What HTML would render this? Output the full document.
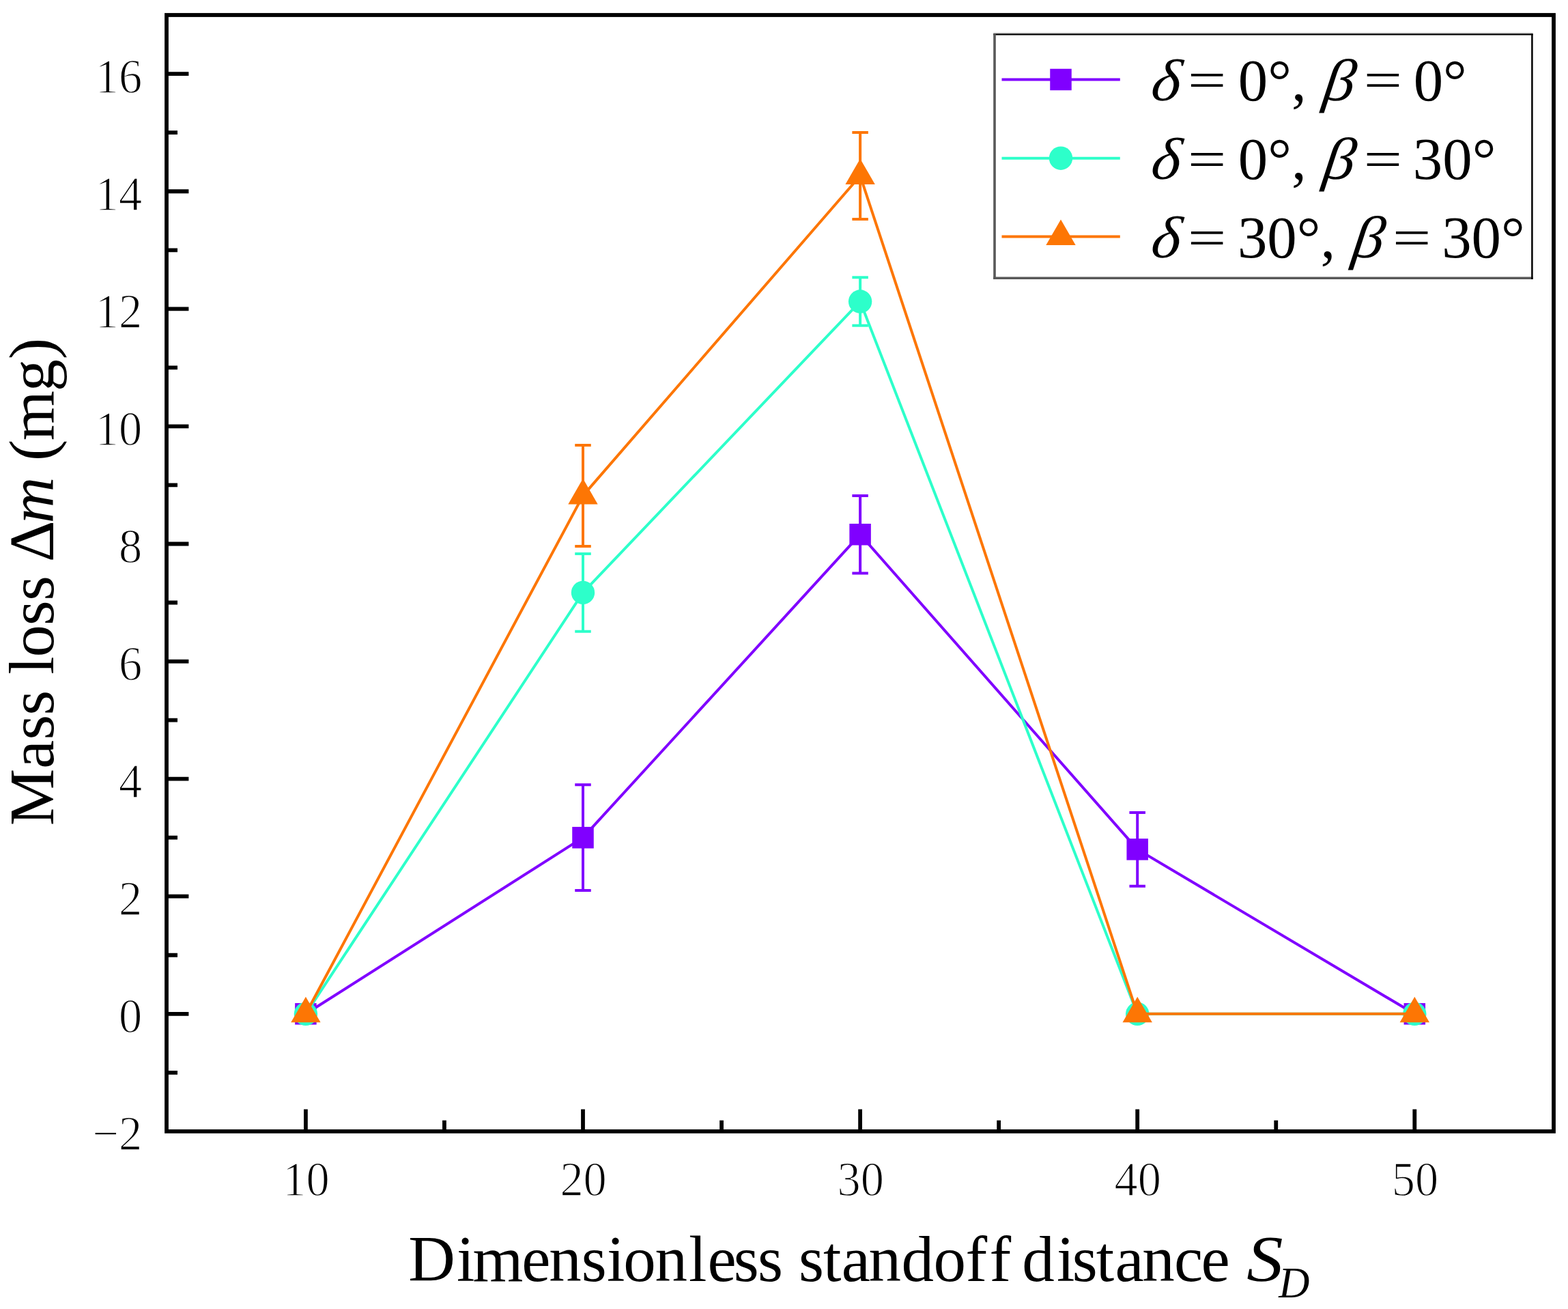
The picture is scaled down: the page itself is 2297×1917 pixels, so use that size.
<!DOCTYPE html>
<html lang="en"><head><meta charset="utf-8">
<title>Mass loss versus dimensionless standoff distance</title>
<style>
html,body{margin:0;padding:0;background:#fff;}
body{width:2297px;height:1917px;}
svg{display:block;}
text{font-family:"Liberation Serif","Times New Roman",serif;fill:#000;font-variant-ligatures:none;font-kerning:none;}
.tick{font-size:72px;stroke:#fff;stroke-width:1.4px;}
.axis{font-size:95px;}
.yaxis{font-size:94px;}
.sub{font-size:62.5px;}
.leg{font-size:86.8px;}
.it{font-style:italic;}
</style></head><body>
<svg width="2297" height="1917" viewBox="0 0 2297 1917">
<rect x="0" y="0" width="2297" height="1917" fill="#ffffff"/>
<g>
<polyline points="447.9,1484.8 854,1226.68 1260.1,782.71 1666.2,1243.89 2072.3,1484.8" fill="none" stroke="#8000ff" stroke-width="4" stroke-linejoin="round"/>
<path d="M854 1149.24V1304.12M842.25 1149.24H865.75M842.25 1304.12H865.75" fill="none" stroke="#8000ff" stroke-width="4"/>
<path d="M1260.1 725.93V839.5M1248.35 725.93H1271.85M1248.35 839.5H1271.85" fill="none" stroke="#8000ff" stroke-width="4"/>
<path d="M1666.2 1190.11V1297.66M1654.45 1190.11H1677.95M1654.45 1297.66H1677.95" fill="none" stroke="#8000ff" stroke-width="4"/>
<rect x="432.15" y="1469.05" width="31.5" height="31.5" fill="#8000ff"/>
<rect x="838.25" y="1210.93" width="31.5" height="31.5" fill="#8000ff"/>
<rect x="1244.35" y="766.96" width="31.5" height="31.5" fill="#8000ff"/>
<rect x="1650.45" y="1228.14" width="31.5" height="31.5" fill="#8000ff"/>
<rect x="2056.55" y="1469.05" width="31.5" height="31.5" fill="#8000ff"/>
</g>
<g>
<polyline points="447.9,1484.8 854,867.89 1260.1,441.56 1666.2,1484.8 2072.3,1484.8" fill="none" stroke="#2dffca" stroke-width="4" stroke-linejoin="round"/>
<path d="M854 811.11V924.68M842.25 811.11H865.75M842.25 924.68H865.75" fill="none" stroke="#2dffca" stroke-width="4"/>
<path d="M1260.1 406.29V476.84M1248.35 406.29H1271.85M1248.35 476.84H1271.85" fill="none" stroke="#2dffca" stroke-width="4"/>
<circle cx="447.9" cy="1484.8" r="17.2" fill="#2dffca"/>
<circle cx="854" cy="867.89" r="17.2" fill="#2dffca"/>
<circle cx="1260.1" cy="441.56" r="17.2" fill="#2dffca"/>
<circle cx="1666.2" cy="1484.8" r="17.2" fill="#2dffca"/>
<circle cx="2072.3" cy="1484.8" r="17.2" fill="#2dffca"/>
</g>
<g>
<polyline points="447.9,1484.8 854,725.93 1260.1,257.44 1666.2,1484.8 2072.3,1484.8" fill="none" stroke="#fd7604" stroke-width="4" stroke-linejoin="round"/>
<path d="M854 651.93V799.92M842.25 651.93H865.75M842.25 799.92H865.75" fill="none" stroke="#fd7604" stroke-width="4"/>
<path d="M1260.1 193.94V320.94M1248.35 193.94H1271.85M1248.35 320.94H1271.85" fill="none" stroke="#fd7604" stroke-width="4"/>
<polygon points="447.9,1459.74 426.2,1497.33 469.6,1497.33" fill="#fd7604"/>
<polygon points="854,700.87 832.3,738.46 875.7,738.46" fill="#fd7604"/>
<polygon points="1260.1,232.38 1238.4,269.97 1281.8,269.97" fill="#fd7604"/>
<polygon points="1666.2,1459.74 1644.5,1497.33 1687.9,1497.33" fill="#fd7604"/>
<polygon points="2072.3,1459.74 2050.6,1497.33 2094,1497.33" fill="#fd7604"/>
</g>
<g fill="none" stroke="#000" stroke-width="5.8">
<rect x="244" y="22" width="2032" height="1634.85"/>
<path d="M447.9 1656.85v-32.4M650.95 1656.85v-16M854 1656.85v-32.4M1057.05 1656.85v-16M1260.1 1656.85v-32.4M1463.15 1656.85v-16M1666.2 1656.85v-32.4M1869.25 1656.85v-16M2072.3 1656.85v-32.4M244 1570.84h16M244 1484.8h32.4M244 1398.76h16M244 1312.72h32.4M244 1226.68h16M244 1140.64h32.4M244 1054.6h16M244 968.56h32.4M244 882.52h16M244 796.48h32.4M244 710.44h16M244 624.4h32.4M244 538.36h16M244 452.32h32.4M244 366.28h16M244 280.24h32.4M244 194.2h16M244 108.16h32.4" stroke-width="5.8"/>
</g>
<g class="tick">
<text transform="translate(448.5 1750.7) scale(0.95 1)" text-anchor="middle">10</text>
<text transform="translate(854.6 1750.7) scale(0.95 1)" text-anchor="middle">20</text>
<text transform="translate(1260.7 1750.7) scale(0.95 1)" text-anchor="middle">30</text>
<text transform="translate(1666.8 1750.7) scale(0.95 1)" text-anchor="middle">40</text>
<text transform="translate(2072.9 1750.7) scale(0.95 1)" text-anchor="middle">50</text>
<text transform="translate(208.2 1684.28) scale(0.95 1)" text-anchor="end">−2</text>
<text transform="translate(208.2 1512.2) scale(0.95 1)" text-anchor="end">0</text>
<text transform="translate(208.2 1340.12) scale(0.95 1)" text-anchor="end">2</text>
<text transform="translate(208.2 1168.04) scale(0.95 1)" text-anchor="end">4</text>
<text transform="translate(208.2 995.96) scale(0.95 1)" text-anchor="end">6</text>
<text transform="translate(208.2 823.88) scale(0.95 1)" text-anchor="end">8</text>
<text transform="translate(208.2 651.8) scale(0.95 1)" text-anchor="end">10</text>
<text transform="translate(208.2 479.72) scale(0.95 1)" text-anchor="end">12</text>
<text transform="translate(208.2 307.64) scale(0.95 1)" text-anchor="end">14</text>
<text transform="translate(208.2 135.56) scale(0.95 1)" text-anchor="end">16</text>
</g>
<text class="axis" x="598.36 669.01 692.61 764.19 804.22 851.8 889.01 913.18 959.62 1009.1 1036.53 1074.7 1110 1146.97 1170 1206.07 1232.66 1272.42 1320.47 1367.38 1414.58 1449.58 1481.21 1497.27 1548.01 1570.7 1605.87 1633.46 1673.22 1719.98 1759.49 1801.65" y="1875.7">Dimensionless standoff distance <tspan class="it" x="1826.25" textLength="53.37" lengthAdjust="spacingAndGlyphs">S</tspan><tspan class="it sub" x="1873.2" y="1900.3">D</tspan></text>
<text class="yaxis" transform="translate(78.3 1206.5) rotate(-90)" x="-2.71 80.8 122.94 159.04 195.63 219.02 244.32 290.44 326.84 363.43 383.62 439.9 507.79 531.57 561.33 633.36 680.17" y="0">Mass loss Δ<tspan class="it">m</tspan> (mg)</text>
<rect x="1457" y="50.4" width="787.4" height="356.8" fill="#fff"/>
<path d="M1455.2 48.4H2245.6" stroke="#d2d2d2" stroke-width="2" fill="none"/>
<path d="M1455.2 50.4H2245.6" stroke="#000" stroke-width="2.1" fill="none"/>
<path d="M1455.2 407.2H2245.6" stroke="#585858" stroke-width="3.4" fill="none"/>
<path d="M1457 49.4V408.9" stroke="#585858" stroke-width="3.6" fill="none"/>
<path d="M2244.4 49.4V408.9" stroke="#000" stroke-width="2.5" fill="none"/>
<line x1="1467.5" y1="116.5" x2="1640.8" y2="116.5" stroke="#8000ff" stroke-width="4"/>
<rect x="1538.25" y="100.75" width="31.5" height="31.5" fill="#8000ff"/>
<text class="leg it" transform="translate(1684.3 146.7) skewX(-7) scale(1.06 1)">δ</text>
<text class="leg" transform="translate(1740.03 143.4) scale(1.15 0.87)">=</text>
<text class="leg" x="1813.79" y="146.7">0°,</text>
<text class="leg it" transform="translate(1936.37 146.7) skewX(-8) scale(1.05 1)">β</text>
<text class="leg" transform="translate(1997.63 143.4) scale(1.15 0.87)">=</text>
<text class="leg" x="2070.69" y="146.7">0°</text>
<line x1="1467.5" y1="231.7" x2="1640.8" y2="231.7" stroke="#2dffca" stroke-width="4"/>
<circle cx="1554" cy="231.7" r="17.2" fill="#2dffca"/>
<text class="leg it" transform="translate(1684.3 262) skewX(-7) scale(1.06 1)">δ</text>
<text class="leg" transform="translate(1740.03 258.7) scale(1.15 0.87)">=</text>
<text class="leg" x="1813.79" y="262">0°,</text>
<text class="leg it" transform="translate(1936.37 262) skewX(-8) scale(1.05 1)">β</text>
<text class="leg" transform="translate(1997.63 258.7) scale(1.15 0.87)">=</text>
<text class="leg" x="2069.85" y="262">30°</text>
<line x1="1467.5" y1="346.5" x2="1640.8" y2="346.5" stroke="#fd7604" stroke-width="4"/>
<polygon points="1554,321.44 1532.3,359.03 1575.7,359.03" fill="#fd7604"/>
<text class="leg it" transform="translate(1684.3 377.3) skewX(-7) scale(1.06 1)">δ</text>
<text class="leg" transform="translate(1740.03 374) scale(1.15 0.87)">=</text>
<text class="leg" x="1812.95" y="377.3">30°,</text>
<text class="leg it" transform="translate(1978.67 377.3) skewX(-8) scale(1.05 1)">β</text>
<text class="leg" transform="translate(2039.93 374) scale(1.15 0.87)">=</text>
<text class="leg" x="2112.15" y="377.3">30°</text>
</svg>
</body></html>
